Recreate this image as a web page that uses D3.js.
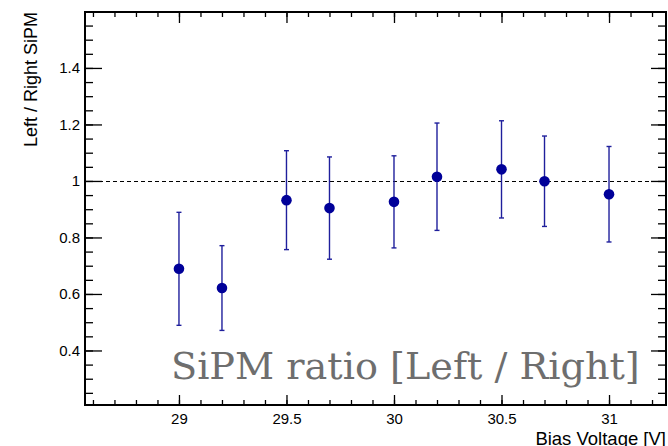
<!DOCTYPE html>
<html>
<head>
<meta charset="utf-8">
<script src="https://cdn.jsdelivr.net/npm/d3@7"></script>
<style>
  body { margin: 0; background: #fff; }
  svg { display: block; }
</style>
</head>
<body>
<script>
// DATA
const voltages = [29.0, 29.2, 29.5, 29.7, 30.0, 30.2, 30.5, 30.7, 31.0];
const ratios   = [0.689, 0.621, 0.932, 0.904, 0.926, 1.015, 1.041, 0.999, 0.953];
const errors   = [0.200, 0.150, 0.175, 0.181, 0.163, 0.190, 0.172, 0.160, 0.169];
const xMajorTicks = [29, 29.5, 30, 30.5, 31];
const yMajorTicks = [0.4, 0.6, 0.8, 1.0, 1.2, 1.4];
const xTickLabels = ["29", "29.5", "30", "30.5", "31"];
const yTickLabels = ["0.4", "0.6", "0.8", "1", "1.2", "1.4"];
const xMinorTicks = d3.range(286, 313).map(d => d / 10);      // 28.6 .. 31.2
const yMinorTicks = d3.range(5, 32).map(d => d / 20);         // 0.25 .. 1.55

// GLOBALS
const WIDTH = 668;
const HEIGHT = 446;
const frame = { left: 85, right: 666, top: 12, bottom: 405 };
const FONT = "'Liberation Sans', Arial, Helvetica, sans-serif";

const svg = d3.select("body").append("svg")
  .attr("width", WIDTH).attr("height", HEIGHT);

// SCALES
const x = d3.scaleLinear().domain([28.563, 31.265]).range([frame.left, frame.right]);
const y = d3.scaleLinear().domain([0.207, 1.598]).range([frame.bottom, frame.top]);

// AXES (ticks point inward, like ROOT)
const axisDrawer = (axis, tx, ty) => {
  const g = svg.append("g")
    .attr("transform", `translate(${tx},${ty})`)
    .call(axis);
  g.select(".domain").remove();
  g.selectAll(".tick line").attr("stroke", "#000").attr("stroke-width", 1.3);
  g.selectAll("text")
    .attr("font-family", FONT).attr("font-size", 15).attr("fill", "#000");
  return g;
};

// left
axisDrawer(d3.axisLeft(y).tickValues(yMinorTicks).tickFormat("").tickSizeInner(-8).tickSizeOuter(0), frame.left, 0);
axisDrawer(d3.axisLeft(y).tickValues(yMajorTicks).tickFormat((d, i) => yTickLabels[i])
  .tickSizeInner(-17).tickSizeOuter(0).tickPadding(5), frame.left, 0);
// right
axisDrawer(d3.axisRight(y).tickValues(yMinorTicks).tickFormat("").tickSizeInner(-8).tickSizeOuter(0), frame.right, 0);
axisDrawer(d3.axisRight(y).tickValues(yMajorTicks).tickFormat("").tickSizeInner(-15).tickSizeOuter(0), frame.right, 0);
// bottom
axisDrawer(d3.axisBottom(x).tickValues(xMinorTicks).tickFormat("").tickSizeInner(-5).tickSizeOuter(0), 0, frame.bottom);
axisDrawer(d3.axisBottom(x).tickValues(xMajorTicks).tickFormat((d, i) => xTickLabels[i])
  .tickSizeInner(-10).tickSizeOuter(0).tickPadding(8), 0, frame.bottom);
// top
axisDrawer(d3.axisTop(x).tickValues(xMinorTicks).tickFormat("").tickSizeInner(-5).tickSizeOuter(0), 0, frame.top);
axisDrawer(d3.axisTop(x).tickValues(xMajorTicks).tickFormat("").tickSizeInner(-11).tickSizeOuter(0), 0, frame.top);

// frame
svg.append("rect")
  .attr("x", frame.left).attr("y", frame.top)
  .attr("width", frame.right - frame.left).attr("height", frame.bottom - frame.top)
  .attr("fill", "none").attr("stroke", "#000").attr("stroke-width", 2);

// reference line at 1
svg.append("line")
  .attr("x1", frame.left).attr("x2", frame.right)
  .attr("y1", Math.round(y(1)) + 0.5).attr("y2", Math.round(y(1)) + 0.5)
  .attr("stroke", "#000").attr("stroke-width", 1.2).attr("stroke-dasharray", "4,3");

// POINTS WITH ERROR BARS
const points = voltages.map((v, i) => ({ v, r: ratios[i], e: errors[i] }));

const pts = svg.append("g").selectAll("g")
  .data(points)
  .enter()
  .append("g");

pts.append("line")
  .attr("x1", d => x(d.v)).attr("x2", d => x(d.v))
  .attr("y1", d => y(d.r - d.e)).attr("y2", d => y(d.r + d.e))
  .attr("stroke", "#1f1f9c").attr("stroke-width", 1.4);

[1, -1].forEach(s => {
  pts.append("line")
    .attr("x1", d => x(d.v) - 2.5).attr("x2", d => x(d.v) + 2.5)
    .attr("y1", d => y(d.r + s * d.e)).attr("y2", d => y(d.r + s * d.e))
    .attr("stroke", "#1f1f9c").attr("stroke-width", 1.4);
});

pts.append("circle")
  .attr("cx", d => x(d.v)).attr("cy", d => y(d.r))
  .attr("r", 5.3)
  .attr("fill", "#000099");

// TEXTS
svg.append("text")
  .attr("x", frame.right).attr("y", 445)
  .attr("text-anchor", "end")
  .attr("font-family", FONT).attr("font-size", 18.5)
  .text("Bias Voltage [V]");

svg.append("text")
  .attr("transform", `translate(37,${frame.top}) rotate(-90)`)
  .attr("text-anchor", "end")
  .attr("font-family", FONT).attr("font-size", 18)
  .text("Left / Right SiPM");

svg.append("text")
  .attr("x", 171).attr("y", 379)
  .attr("font-family", "'DejaVu Serif', serif").attr("font-size", 38.2)
  .attr("fill", "#6e6e6e")
  .text("SiPM ratio [Left / Right]");
</script>
</body>
</html>
